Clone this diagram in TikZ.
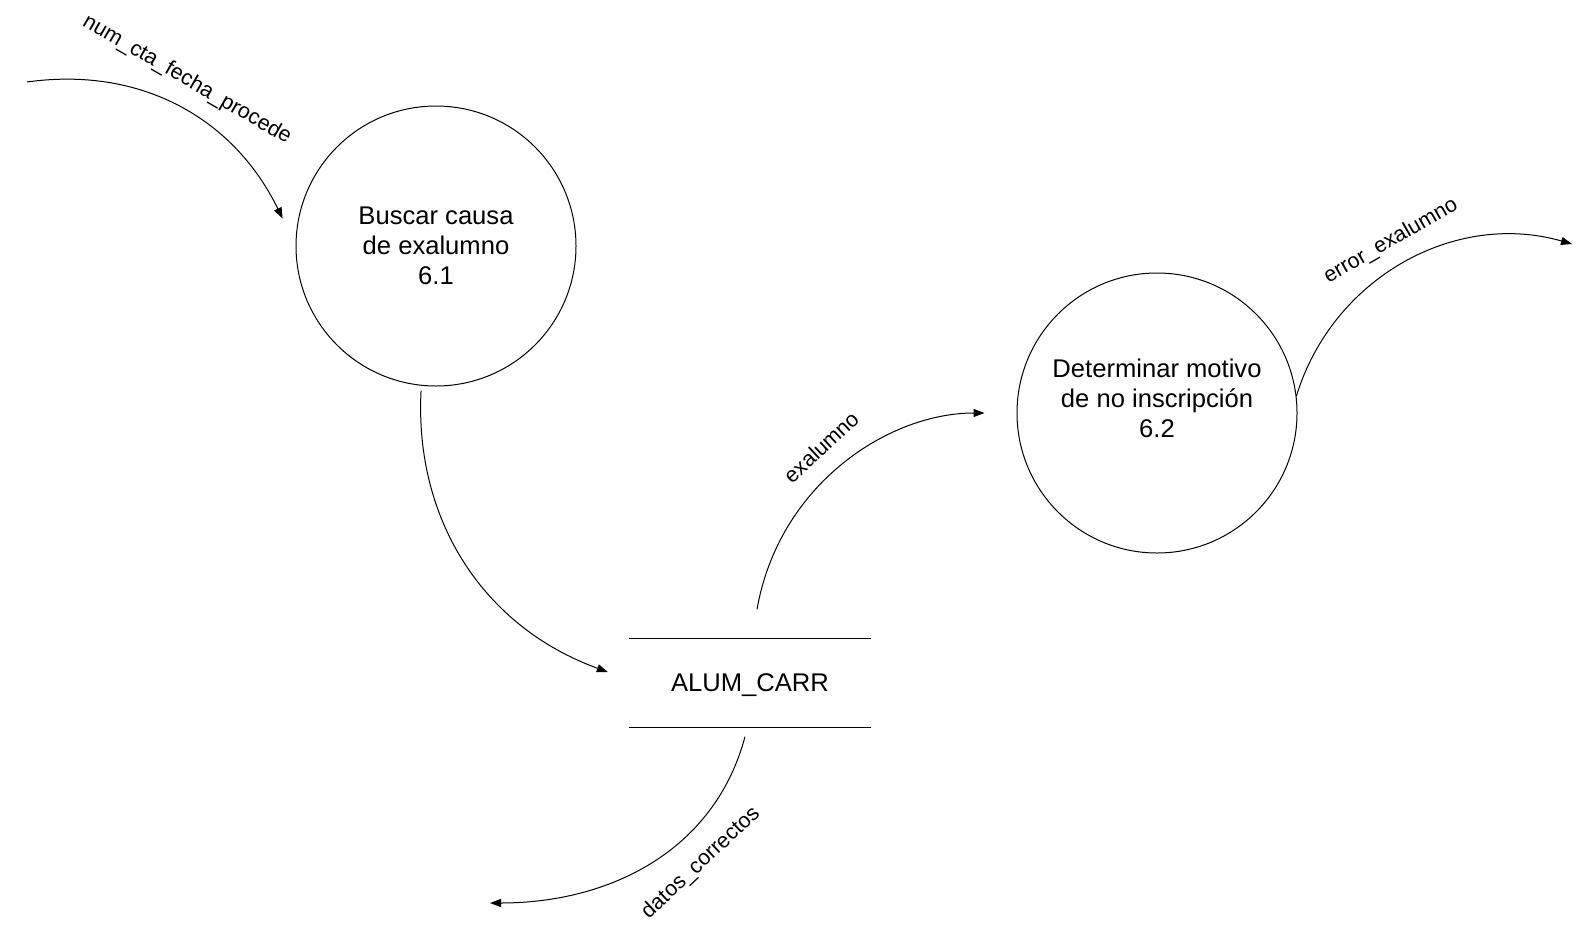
\documentclass[tikz,border=0pt]{standalone}
\usepackage{fontspec}
\setmainfont{Liberation Sans}
\usetikzlibrary{arrows.meta}

\begin{document}
\begin{tikzpicture}[x=1pt,y=1pt,
  process/.style={draw,circle,line width=1pt,minimum size=280pt,inner sep=0pt,
    align=center,font=\fontsize{25.6}{30}\selectfont},
  store/.style={minimum width=242pt,minimum height=89pt,inner sep=0pt,
    font=\fontsize{25.6}{30}\selectfont},
  flow/.style={line width=1pt,-{Triangle[length=11pt,width=8pt]}},
  flowlabel/.style={inner sep=0pt,font=\fontsize{21.5}{25}\selectfont}
]
\useasboundingbox (0,0) rectangle (1576,-924);

% processes
\node[process] (c1) at (436,-246) {Buscar causa\\de exalumno\\6.1};
\node[process] (c2) at (1157,-413) {};
\node[align=center,font=\fontsize{25.6}{30}\selectfont] (t2) at ([yshift=15pt]c2.center)
  {Determinar motivo\\de no inscripción\\6.2};

% data store
\node[store] (st) at (750,-683) {};
\node[font=\fontsize{25.6}{30}\selectfont,inner sep=0pt] (stname) at ([yshift=-2pt]st.center) {ALUM\_CARR};
\draw[line width=1pt] (st.north west) -- (st.north east);
\draw[line width=1pt] (st.south west) -- (st.south east);

% free ends
\coordinate (src1) at (27,-82);
\coordinate (snk4) at (490,-903);
\coordinate (snk5) at (1572,-244);

% flows
\draw[flow] (src1) to[out=8,in=116] ([shift={(-15,3)}]c1.170);
\draw[flow,shorten <=5pt] (c1.264) to[out=-93,in=160] ([shift={(-21,11)}]st.west);
\draw[flow,shorten >=32pt] ([shift={(7,29)}]st.north) to[out=80,in=180] (c2.west);
\draw[flow] ([shift={(-5,-9)}]st.south) to[out=-105,in=0] (snk4);
\draw[flow] (c2.7) to[out=73,in=164] (snk5);

% flow labels
\node[flowlabel,rotate=-30] (l1) at (187,-80) {num\_cta\_fecha\_procede};
\node[flowlabel,rotate=43] (l2) at (821,-447) {exalumno};
\node[flowlabel,rotate=43] (l3) at (701,-863) {datos\_correctos};
\node[flowlabel,rotate=30] (l4) at (1391,-241) {error\_exalumno};
\end{tikzpicture}
\end{document}
